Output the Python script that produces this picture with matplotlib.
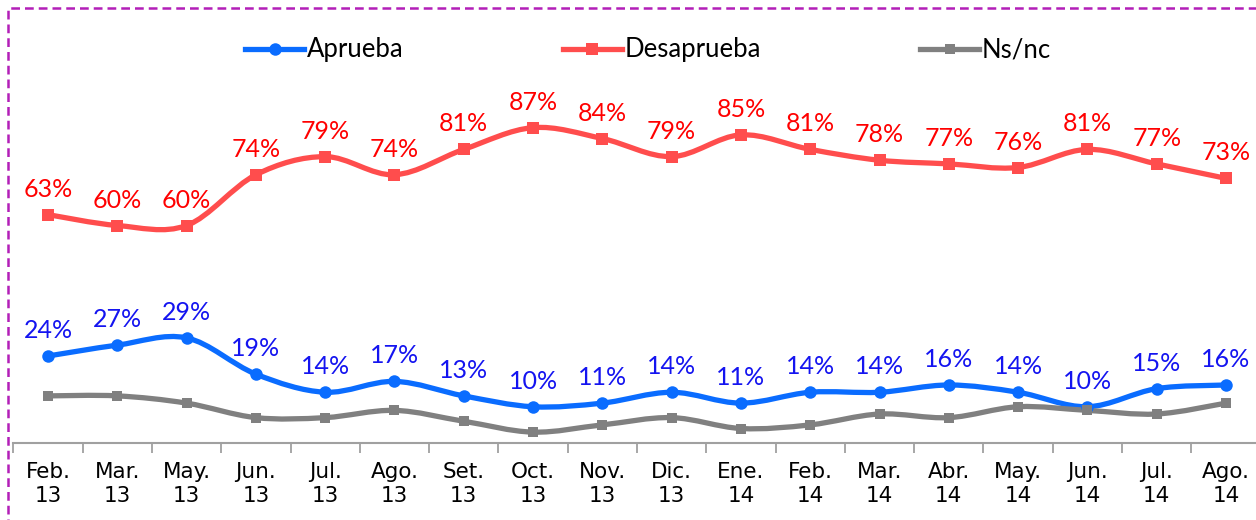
import matplotlib
matplotlib.use("Agg")
import matplotlib.pyplot as plt
import numpy as np
from matplotlib.path import Path
from matplotlib.patches import PathPatch, Rectangle
from matplotlib.lines import Line2D

months = ["Feb.\n13", "Mar.\n13", "May.\n13", "Jun.\n13", "Jul.\n13", "Ago.\n13",
          "Set.\n13", "Oct.\n13", "Nov.\n13", "Dic.\n13", "Ene.\n14", "Feb.\n14",
          "Mar.\n14", "Abr.\n14", "May.\n14", "Jun.\n14", "Jul.\n14", "Ago.\n14"]
aprueba = [24, 27, 29, 19, 14, 17, 13, 10, 11, 14, 11, 14, 14, 16, 14, 10, 15, 16]
desaprueba = [63, 60, 60, 74, 79, 74, 81, 87, 84, 79, 85, 81, 78, 77, 76, 81, 77, 73]
nsnc = [13, 13, 11, 7, 7, 9, 6, 3, 5, 7, 4, 5, 8, 7, 10, 9, 8, 11]


def smooth_path(x, y):
    # Excel-like smoothed line: Catmull-Rom segments as cubic Beziers
    x = np.asarray(x, float)
    y = np.asarray(y, float)
    n = len(x)
    verts = [(x[0], y[0])]
    codes = [Path.MOVETO]
    for i in range(n - 1):
        p0 = np.array([x[max(i - 1, 0)], y[max(i - 1, 0)]])
        p1 = np.array([x[i], y[i]])
        p2 = np.array([x[i + 1], y[i + 1]])
        p3 = np.array([x[min(i + 2, n - 1)], y[min(i + 2, n - 1)]])
        c1 = p1 + (p2 - p0) / 6.0
        c2 = p2 - (p3 - p1) / 6.0
        verts += [tuple(c1), tuple(c2), tuple(p2)]
        codes += [Path.CURVE4] * 3
    return Path(verts, codes)


W, H = 1256, 520
fig = plt.figure(figsize=(W / 100, H / 100), dpi=100)
ax = fig.add_axes([13.35 / W, (H - 443) / H, 1247.3 / W, 362.5 / H])

x = np.arange(len(months))

series = [
    ("Aprueba", aprueba, "#0A6CFF", "o", 9, "#1414F0", True),
    ("Desaprueba", desaprueba, "#FF4D4D", "s", 8, "#FF0000", True),
    ("Ns/nc", nsnc, "#808080", "s", 7, None, False),
]

handles = []
for name, vals, color, marker, ms, lab_color, labels in series:
    ax.add_patch(PathPatch(smooth_path(x, vals), fill=False, edgecolor=color,
                           linewidth=3.8, capstyle="round", joinstyle="round"))
    ax.plot(x, vals, linestyle="none", marker=marker, markersize=ms,
            color=color, markeredgewidth=0)
    handles.append(Line2D([], [], color=color, linewidth=3.8, marker=marker,
                          markersize=ms, markeredgewidth=0, label=name))
    if labels:
        for xi, v in zip(x, vals):
            ax.annotate(f"{v}%", (xi, v), xytext=(0, 10), textcoords="offset points",
                        ha="center", va="bottom", color=lab_color,
                        fontsize=18, family="Lato")

ax.set_xlim(-0.5, len(months) - 0.5)
ax.set_ylim(0, 100)
ax.set_xticks(x)
ax.set_xticklabels(months, fontsize=15.5, family="DejaVu Sans", color="black")
ax.set_xticks(np.arange(len(months) + 1) - 0.5, minor=True)
ax.tick_params(axis="x", which="major", length=0, pad=14)
ax.tick_params(axis="x", which="minor", length=7, width=1.3, color="#A0A0A0",
               direction="out")
ax.set_yticks([])
for side in ["top", "right", "left"]:
    ax.spines[side].set_visible(False)
ax.spines["bottom"].set_color("#A0A0A0")
ax.spines["bottom"].set_linewidth(1.5)

fig.legend(handles=handles, loc="center", bbox_to_anchor=(0.516, 1 - 50 / H),
           ncol=3, frameon=False, prop={"family": "Lato", "size": 18.5},
           handlelength=2.3, handletextpad=0.1, columnspacing=6.2)

# dashed magenta frame (cropped on right and bottom)
fig.patches.append(Rectangle((8 / W, -0.2), 1.2, 1.2 - 8 / H,
                             transform=fig.transFigure, fill=False,
                             edgecolor="#B31EB8", linewidth=1.8,
                             linestyle=(0, (3.5, 2))))

fig.savefig("out.png", dpi=100)
